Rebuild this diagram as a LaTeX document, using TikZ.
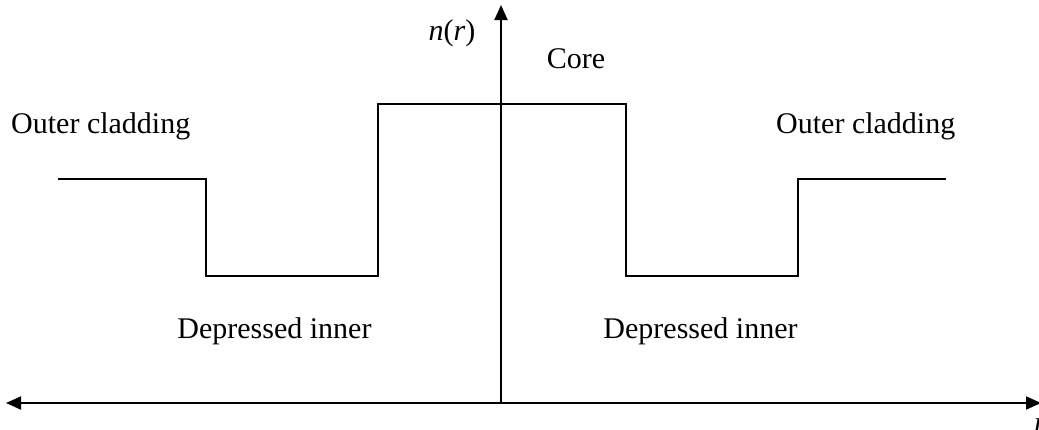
\documentclass[tikz,border=0pt]{standalone}
\usepackage{fontspec}
\setmainfont{Liberation Serif}
\usetikzlibrary{arrows.meta}
\begin{document}
\begin{tikzpicture}[x=1pt,y=-1pt,
  axis/.style={line width=2pt,-{Triangle[length=15pt,width=13pt]}},
  prof/.style={line width=2pt,line join=miter},
  lbl/.style={font=\fontsize{30}{34}\selectfont,inner sep=0pt}]
\useasboundingbox (0,0) rectangle (1039,429);
% axes
\coordinate (O) at (501,403);
\coordinate (L) at (6,403);
\coordinate (R) at (1041,403);
\coordinate (T) at (501,5);
\draw[axis] (O) -- (L);
\draw[axis] (O) -- (R);
\draw[axis] (O) -- (T);
% profile
\coordinate (p1) at (58,179);
\coordinate (p2) at (206,179);
\coordinate (p3) at (206,276);
\coordinate (p4) at (378,276);
\coordinate (p5) at (378,104);
\coordinate (p6) at (626,104);
\coordinate (p7) at (626,276);
\coordinate (p8) at (798,276);
\coordinate (p9) at (798,179);
\coordinate (p10) at (946,179);
\draw[prof] (p1) -- (p2) -- (p3) -- (p4) -- (p5) -- (p6) -- (p7) -- (p8) -- (p9) -- (p10);
% labels
\node[lbl,anchor=base] (nr) at (452,40) {\textit{n}(\textit{r})};
\node[lbl,anchor=base] (core) at (576,68) {Core};
\node[lbl,anchor=base west] (ocl) at (11,133) {Outer cladding};
\node[lbl,anchor=base west] (ocr) at (776,133) {Outer cladding};
\node[lbl,anchor=base] (dil) at (274.5,338) {Depressed inner};
\node[lbl,anchor=base] (dir) at (700.5,338) {Depressed inner};
\node[lbl,anchor=base west] (rr) at (1034,432) {\textit{r}};
\end{tikzpicture}
\end{document}
